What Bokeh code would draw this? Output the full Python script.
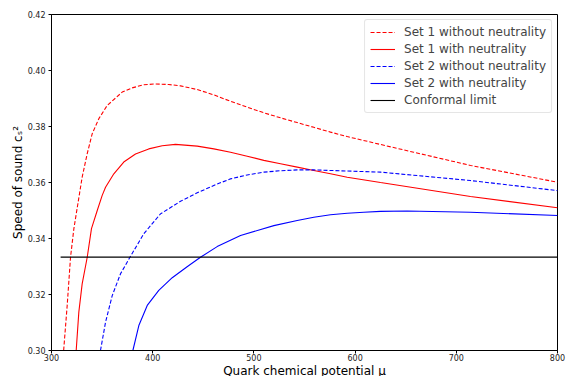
from bokeh.plotting import figure
from bokeh.models import Range1d, Legend, LegendItem, FixedTicker, CustomJSTickFormatter
from bokeh.embed import file_html
from bokeh.resources import INLINE

# Data
mu_s1_free = [312, 315.5, 318.8, 322.1, 327.0, 330.3, 335.3, 340.2, 346.8, 355.0, 369.9, 379.7,
              391.2, 402.8, 415.9, 427.5, 444, 460.4, 476.9, 493.4, 509.8, 526.3, 542.8, 559.2,
              575.7, 592.2, 625, 658, 714, 800]
cs2_s1_free = [0.300, 0.3161, 0.3333, 0.3435, 0.3545, 0.3619, 0.3703, 0.3774, 0.3828, 0.3875, 0.3923, 0.3938,
               0.3949, 0.3952, 0.3950, 0.3945, 0.3932, 0.3913, 0.3890, 0.3869, 0.3849, 0.3831, 0.3814, 0.3797,
               0.3780, 0.3764, 0.3736, 0.3708, 0.3661, 0.3601]

mu_s1_neut = [324.4, 327, 330.3, 335.3, 339.5, 345.2, 350.1, 353.4, 361.6, 371.4, 383.0, 396.1, 409.4,
              422.5, 444, 460.4, 476.9, 493.4, 509.8, 526.3, 542.8, 559.2, 575.7, 592.2, 625.1, 714, 800]
cs2_s1_neut = [0.300, 0.3137, 0.3238, 0.3333, 0.3435, 0.3500, 0.3554, 0.3583, 0.3631, 0.3673, 0.3702, 0.3720, 0.3731,
               0.3736, 0.3730, 0.3720, 0.3708, 0.3694, 0.3679, 0.3667, 0.3655, 0.3643, 0.3631, 0.3619, 0.3600, 0.3550, 0.3510]

mu_s2_free = [348.4, 353.4, 360, 368.2, 377.5, 391.2, 407.7, 427.5, 444, 462, 476.9, 493.4, 509.8,
              526.3, 542.8, 559.2, 575.7, 592.2, 625.1, 714, 800]
cs2_s2_free = [0.300, 0.3101, 0.3196, 0.3274, 0.3333, 0.3417, 0.3488, 0.3533, 0.3563, 0.3592, 0.3613, 0.3627, 0.3637,
               0.3642, 0.3645, 0.3645, 0.3643, 0.3641, 0.3637, 0.3607, 0.3571]

mu_s2_neut = [380.4, 386.3, 394.6, 406.0, 419.3, 434, 447.2, 463.7, 486.8, 519.7, 542.8, 559.2, 575.7,
              592.2, 608.6, 625, 651.5, 714, 800]
cs2_s2_neut = [0.300, 0.3089, 0.3161, 0.3215, 0.3260, 0.3299, 0.3333, 0.3371, 0.3411, 0.3446, 0.3464, 0.3476, 0.3485,
               0.3490, 0.3494, 0.3497, 0.3498, 0.3494, 0.3482]

mu_conf = [309, 800]
cs2_conf = [1 / 3, 1 / 3]

x_ticks = [300, 400, 500, 600, 700, 800]
y_ticks = [0.30, 0.32, 0.34, 0.36, 0.38, 0.40, 0.42]

labels = ["Set 1 without neutrality", "Set 1 with neutrality", "Set 2 without neutrality",
          "Set 2 with neutrality", "Conformal limit"]

FONT = "DejaVu Sans"

p = figure(width=566, height=376, output_backend="svg", toolbar_location=None,
           x_range=Range1d(300, 800), y_range=Range1d(0.30, 0.42),
           min_border_left=51, min_border_right=9, min_border_top=14, min_border_bottom=26)
p.frame_width = 506
p.frame_height = 336
p.grid.visible = False
p.outline_line_color = "black"
p.outline_line_width = 1
p.background_fill_color = "white"
p.border_fill_color = "white"

for ax in (p.xaxis[0], p.yaxis[0]):
    ax.major_label_text_font = FONT
    ax.major_label_text_font_size = "8px"
    ax.major_label_text_color = "#222222"
    ax.axis_label_text_font = FONT
    ax.axis_label_text_font_size = "12px"
    ax.axis_label_text_font_style = "normal"
    ax.axis_label_text_color = "black"
    ax.minor_tick_line_color = None
    ax.major_tick_out = 3
    ax.major_tick_in = 0
    ax.axis_line_color = "black"

p.xaxis.ticker = FixedTicker(ticks=x_ticks)
p.yaxis.ticker = FixedTicker(ticks=y_ticks)
p.yaxis.formatter = CustomJSTickFormatter(code="return tick.toFixed(2);")
p.xaxis.axis_label = "Quark chemical potential μ"
p.yaxis.axis_label = "Speed of sound cₛ²"
p.xaxis.major_label_standoff = 0
p.yaxis.major_label_standoff = 3
p.xaxis.axis_label_standoff = 0
p.yaxis.axis_label_standoff = 0

r1 = p.line(mu_s1_free, cs2_s1_free, line_color="red", line_width=1.1, line_dash="4 2")
r2 = p.line(mu_s1_neut, cs2_s1_neut, line_color="red", line_width=1.1)
r3 = p.line(mu_s2_free, cs2_s2_free, line_color="blue", line_width=1.1, line_dash="4 2")
r4 = p.line(mu_s2_neut, cs2_s2_neut, line_color="blue", line_width=1.1)
r5 = p.line(mu_conf, cs2_conf, line_color="black", line_width=1.1)

legend = Legend(items=[LegendItem(label=l, renderers=[r]) for l, r in zip(labels, [r1, r2, r3, r4, r5])],
                location="top_right")
legend.label_text_font = FONT
legend.label_text_font_size = "12px"
legend.label_height = 14
legend.glyph_height = 14
legend.glyph_width = 25
legend.spacing = 3
legend.padding = 5
legend.margin = 5
legend.border_line_color = "#cccccc"
legend.border_line_width = 1
legend.border_radius = 3
legend.background_fill_alpha = 0.8
legend.label_standoff = 9
p.add_layout(legend)

open("out.html", "w").write(file_html(p, INLINE))
